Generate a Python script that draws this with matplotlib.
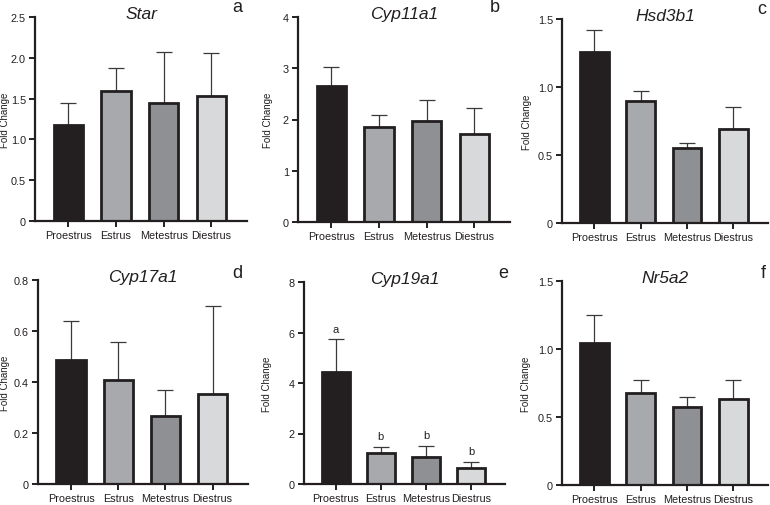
import matplotlib
matplotlib.use("Agg")
import matplotlib.pyplot as plt
from matplotlib.ticker import FuncFormatter

plt.rcParams['font.family'] = ['Liberation Sans', 'DejaVu Sans']

categories = ["Proestrus", "Estrus", "Metestrus", "Diestrus"]
bar_colors = ["#231f20", "#a7a9ac", "#8e9093", "#d8d9da"]

genes = ["Star", "Cyp11a1", "Hsd3b1", "Cyp17a1", "Cyp19a1", "Nr5a2"]
panel_letters = ["a", "b", "c", "d", "e", "f"]

star_mean = [1.18, 1.59, 1.45, 1.53]
star_sem = [0.26, 0.29, 0.62, 0.53]
cyp11a1_mean = [2.65, 1.86, 1.98, 1.72]
cyp11a1_sem = [0.38, 0.23, 0.41, 0.51]
hsd3b1_mean = [1.26, 0.90, 0.555, 0.69]
hsd3b1_sem = [0.16, 0.07, 0.03, 0.16]
cyp17a1_mean = [0.487, 0.409, 0.265, 0.352]
cyp17a1_sem = [0.153, 0.146, 0.105, 0.348]
cyp19a1_mean = [4.42, 1.23, 1.05, 0.63]
cyp19a1_sem = [1.31, 0.24, 0.47, 0.25]
nr5a2_mean = [1.045, 0.68, 0.57, 0.634]
nr5a2_sem = [0.205, 0.09, 0.075, 0.136]

cyp19a1_letters = ["a", "b", "b", "b"]

means = [star_mean, cyp11a1_mean, hsd3b1_mean, cyp17a1_mean, cyp19a1_mean, nr5a2_mean]
sems = [star_sem, cyp11a1_sem, hsd3b1_sem, cyp17a1_sem, cyp19a1_sem, nr5a2_sem]
yticks = [
    [0, 0.5, 1.0, 1.5, 2.0, 2.5],
    [0, 1, 2, 3, 4],
    [0, 0.5, 1.0, 1.5],
    [0, 0.2, 0.4, 0.6, 0.8],
    [0, 2, 4, 6, 8],
    [0, 0.5, 1.0, 1.5],
]
tick_fmt = ["{:.1f}", "{:.0f}", "{:.1f}", "{:.1f}", "{:.0f}", "{:.1f}"]

W, H = 770, 506
# pixel boxes: left, right, top, bottom
boxes = [
    (35, 247, 18, 222),
    (298, 510, 18, 223),
    (562, 768, 20, 224),
    (38, 248, 281, 485),
    (304, 505, 283, 485),
    (562, 768, 282, 486),
]
ylabel_right = [10, 273, 532, 10, 272, 531]
letter_pos = [(237, 8), (495, 8), (762, 10), (237, 273), (503, 273), (763, 274)]

fig = plt.figure(figsize=(W / 100, H / 100), dpi=100)
ink = "#231f20"

for i in range(6):
    l, r, t, b = boxes[i]
    ax = fig.add_axes([l / W, 1 - b / H, (r - l) / W, (b - t) / H])
    x = list(range(len(categories)))
    ax.errorbar(x, means[i], yerr=[[0] * 4, sems[i]], fmt='none',
                ecolor="#3a3a3a", elinewidth=0.9, capsize=5.5, capthick=0.9, zorder=1)
    ax.bar(x, means[i], width=0.62, color=bar_colors, edgecolor=ink,
           linewidth=2.0, zorder=2)
    ax.set_xlim(-0.7, 3.75)
    ax.set_ylim(0, yticks[i][-1])
    ax.set_yticks(yticks[i])
    fmt = tick_fmt[i]
    ax.yaxis.set_major_formatter(FuncFormatter(lambda v, p, fmt=fmt: "0" if v == 0 else fmt.format(v)))
    ax.set_xticks(x)
    ax.set_xticklabels(categories)
    for s in ["top", "right"]:
        ax.spines[s].set_visible(False)
    for s in ["left", "bottom"]:
        ax.spines[s].set_linewidth(1.6)
        ax.spines[s].set_color(ink)
    ax.tick_params(axis='both', direction='out', length=4.5, width=1.4, color=ink,
                   labelsize=7.8, labelcolor=ink, pad=2)
    ax.set_ylabel("Fold Change", fontsize=7, color=ink)
    ax.yaxis.set_label_coords((ylabel_right[i] - l) / (r - l), 0.5)
    ax.text(0.5, 1.015, genes[i], transform=ax.transAxes, ha='center', va='center',
            fontsize=12.5, style='italic', color=ink)
    lx, ly = letter_pos[i]
    fig.text(lx / W, 1 - ly / H, panel_letters[i], ha='center', va='center',
             fontsize=13, color=ink)
    if genes[i] == "Cyp19a1":
        for xi, m, s, lab in zip(x, means[i], sems[i], cyp19a1_letters):
            ax.annotate(lab, (xi, m + s), xytext=(0, 4), textcoords='offset points',
                        ha='center', va='bottom', fontsize=8, color=ink)

fig.savefig("out.png", dpi=100)
